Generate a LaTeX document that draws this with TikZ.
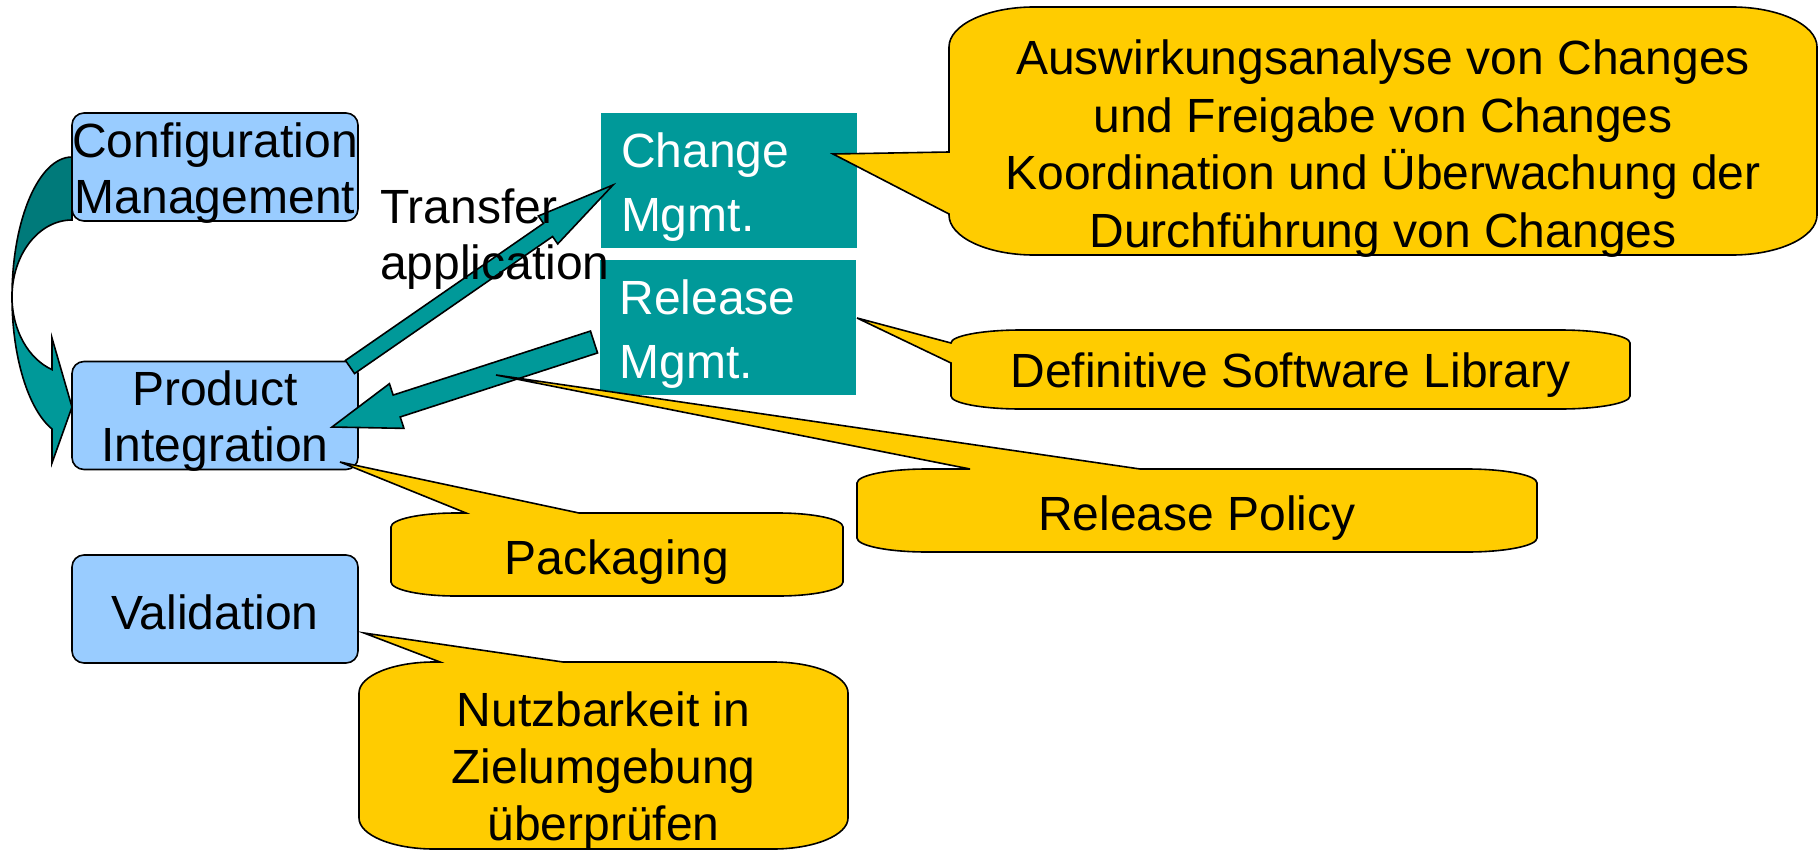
\documentclass[tikz,border=0pt]{standalone}
\usepackage{fontspec}
\setmainfont{Liberation Sans}
\usetikzlibrary{calc}
\definecolor{boxblue}{HTML}{99CCFF}
\definecolor{tealc}{HTML}{009999}
\definecolor{tealdark}{HTML}{007A7A}
\definecolor{callyellow}{HTML}{FFCC00}
\newcommand\dgfont{\fontsize{48}{56}\selectfont}
\newcommand\callfont{\fontsize{48}{57.5}\selectfont}
\newcommand\tealfont{\fontsize{48}{64}\selectfont}
% block arrow: from, to, shaft half width, head half width, head length
\newcommand\blockarr[5]{%
  \coordinate (baB) at ($(#2)!#5!(#1)$);
  \draw[blockarrow] ($(#1)!#3!90:(#2)$) -- ($(baB)!#3!-90:(#1)$) -- ($(baB)!#4!-90:(#1)$)
    -- (#2) -- ($(baB)!#4!90:(#1)$) -- ($(baB)!#3!90:(#1)$) -- ($(#1)!#3!-90:(#2)$) -- cycle;}
\begin{document}
\begin{tikzpicture}[x=1pt,y=-1pt,
  bluebox/.style={draw=black,line width=1.6pt,fill=boxblue,rounded corners=12pt,
    minimum width=286pt,minimum height=108pt,inner sep=0pt},
  tealbox/.style={fill=tealc,minimum width=256pt,minimum height=135pt,inner sep=0pt},
  blockarrow/.style={draw=black,line width=1.6pt,fill=tealc},
  callout/.style={draw=black,line width=1.6pt,fill=callyellow},
  boxtext/.style={inner sep=0pt,font=\dgfont,align=center},
  tealtext/.style={inner sep=0pt,font=\tealfont,align=left,text=white,anchor=west},
  plaintext/.style={inner sep=0pt,font=\callfont,align=center}]
\useasboundingbox (0,0) rectangle (1819,851);

% boxes
\node[bluebox] (config) at (215,167) {};
\node[boxtext] (configtext) at ($(config.center)+(0,6)$) {Configuration\\Management};
\node[bluebox] (prod) at (215,415.5) {};
\node[boxtext] (prodtext) at ($(prod.center)+(0,6)$) {Product\\Integration};
\node[bluebox] (valid) at (215,609) {};
\node[boxtext] (validtext) at ($(valid.center)+(0,3)$) {Validation};
\node[tealbox] (change) at (729,180.5) {};
\node[tealtext] (changetext) at ($(change.west)+(20,7)$) {Change\\Mgmt.};
\node[tealbox] (release) at (727.5,327.5) {};
\node[tealtext] (releasetext) at ($(release.west)+(20,7)$) {Release\\Mgmt.};

% curved arrow from Configuration Management to Product Integration
\draw[blockarrow,fill=tealdark] (72,157)
  arc[start angle=90,end angle=180,x radius=60pt,y radius=140pt]
  arc[start angle=180,end angle=90,x radius=60pt,y radius=77pt] -- cycle;
\draw[blockarrow] (12,297)
  arc[start angle=180,end angle=250.5,x radius=60pt,y radius=140pt]
  -- (52,463) -- (72,407) -- (52,338) -- (52,369.6)
  arc[start angle=250.5,end angle=180,x radius=60pt,y radius=77pt] -- cycle;

% straight block arrows
\coordinate (trA) at (350,367);
\coordinate (trB) at (613,185);
\blockarr{trA}{trB}{8pt}{17pt}{79pt}
\coordinate (reA) at (594,342);
\coordinate (reB) at (332,427);
\blockarr{reA}{reB}{11.5pt}{23.5pt}{68pt}

\node[plaintext,align=left,anchor=west,font=\dgfont] (transfer) at (380,239.5) {Transfer\\application};

% callouts
\coordinate (tipA) at (833,154);
\draw[callout] (949,47) arc[start angle=180,end angle=90,x radius=85pt,y radius=40pt]
  -- (1732,7) arc[start angle=90,end angle=0,x radius=85pt,y radius=40pt]
  -- (1817,215) arc[start angle=0,end angle=-90,x radius=85pt,y radius=40pt]
  -- (1034,255) arc[start angle=-90,end angle=-180,x radius=85pt,y radius=40pt]
  -- (949,214) -- (tipA) -- (949,152) -- cycle;
\node[plaintext] (ctext) at (1383,148.5) {Auswirkungsanalyse von Changes\\und Freigabe von Changes\\Koordination und Überwachung der\\Durchführung von Changes};

\coordinate (tipB) at (857,318);
\draw[callout] (951,343) arc[start angle=180,end angle=90,x radius=70pt,y radius=13pt]
  -- (1560,330) arc[start angle=90,end angle=0,x radius=70pt,y radius=13pt]
  -- (1630,396) arc[start angle=0,end angle=-90,x radius=70pt,y radius=13pt]
  -- (1021,409) arc[start angle=-90,end angle=-180,x radius=70pt,y radius=13pt]
  -- (951,363) -- (tipB) -- cycle;
\node[plaintext] (dsl) at (1290.5,375.5) {Definitive Software Library};

\coordinate (tipC) at (496,375);
\draw[callout] (857,483) arc[start angle=180,end angle=90,x radius=70pt,y radius=14pt]
  -- (970,469) -- (tipC) -- (1140,469)
  -- (1467,469) arc[start angle=90,end angle=0,x radius=70pt,y radius=14pt]
  -- (1537,538) arc[start angle=0,end angle=-90,x radius=70pt,y radius=14pt]
  -- (927,552) arc[start angle=-90,end angle=-180,x radius=70pt,y radius=14pt] -- cycle;
\node[plaintext] (policy) at (1197,518.5) {Release Policy};

\coordinate (tipD) at (340,462);
\draw[callout] (391,527) arc[start angle=180,end angle=90,x radius=65pt,y radius=14pt]
  -- (466,513) -- (tipD) -- (579,513)
  -- (778,513) arc[start angle=90,end angle=0,x radius=65pt,y radius=14pt]
  -- (843,582) arc[start angle=0,end angle=-90,x radius=65pt,y radius=14pt]
  -- (456,596) arc[start angle=-90,end angle=-180,x radius=65pt,y radius=14pt] -- cycle;
\node[plaintext] (pack) at (617,562.5) {Packaging};

\coordinate (tipE) at (364,633);
\draw[callout] (359,693) arc[start angle=180,end angle=90,x radius=75pt,y radius=31pt]
  -- (440,662) -- (tipE) -- (563,662)
  -- (773,662) arc[start angle=90,end angle=0,x radius=75pt,y radius=31pt]
  -- (848,818) arc[start angle=0,end angle=-90,x radius=75pt,y radius=31pt]
  -- (434,849) arc[start angle=-90,end angle=-180,x radius=75pt,y radius=31pt] -- cycle;
\node[plaintext,font=\fontsize{48}{57}\selectfont] (nutz) at (603.5,771) {Nutzbarkeit in\\Zielumgebung\\überprüfen};
\end{tikzpicture}
\end{document}
